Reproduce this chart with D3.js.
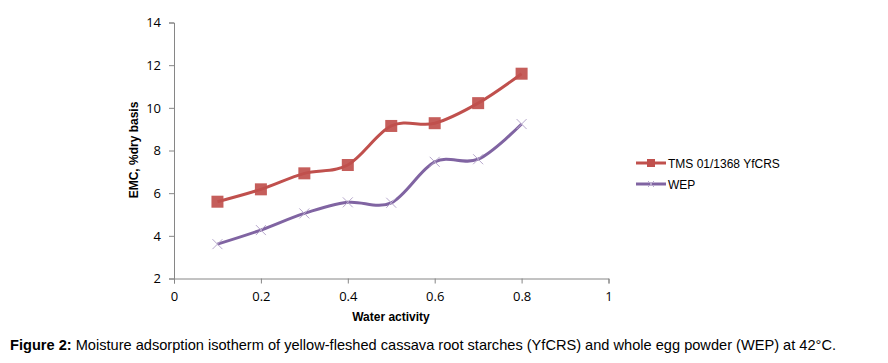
<!DOCTYPE html>
<html><head><meta charset="utf-8">
<script src="https://cdn.jsdelivr.net/npm/d3@7"></script>
<style>body{margin:0;background:#fff}svg{display:block}</style>
</head><body>
<svg id="c" width="888" height="363"></svg>
<script>
const waterActivity = [0.1, 0.2, 0.3, 0.4, 0.5, 0.6, 0.7, 0.8];
const yfcrs = [5.6, 6.18, 6.93, 7.32, 9.15, 9.28, 10.22, 11.6];
const wep = [3.61, 4.27, 5.05, 5.57, 5.55, 7.47, 7.59, 9.24];
const xTicks = [0, 0.2, 0.4, 0.6, 0.8, 1];
const yTicks = [2, 4, 6, 8, 10, 12, 14];
const seriesNames = ["TMS 01/1368 YfCRS", "WEP"];

const svg = d3.select("#c");
const x = d3.scaleLinear().domain([0, 1]).range([174, 608.5]);
const y = d3.scaleLinear().domain([2, 14]).range([278.5, 22.5]);
const axisColor = "#868686";
const tickFont = "'Open Sans', 'Liberation Sans', sans-serif";

const gx = svg.append("g").attr("transform", `translate(0,${y(2)})`)
  .call(d3.axisBottom(x).tickValues(xTicks).tickSize(5).tickPadding(8).tickFormat(d => d === 0 || d === 1 ? d3.format("d")(d) : d3.format(".1f")(d)));
const gy = svg.append("g").attr("transform", `translate(${x(0)},0)`)
  .call(d3.axisLeft(y).tickValues(yTicks).tickSize(5).tickPadding(8));
[gx, gy].forEach(g => {
  g.attr("font-size", 13).attr("font-family", tickFont);
  g.select(".domain").attr("stroke", axisColor).attr("stroke-width", 1);
  g.selectAll(".tick line").attr("stroke", axisColor);
  g.selectAll(".tick text").attr("fill", "#000").attr("font-size", 13);
});

svg.append("text").attr("x", 391).attr("y", 321).attr("text-anchor", "middle")
  .attr("font-family", "'Liberation Sans', Arial, sans-serif").attr("font-weight", "bold").attr("font-size", 12)
  .text("Water activity");
svg.append("text").attr("transform", "translate(138,150) rotate(-90)").attr("text-anchor", "middle")
  .attr("font-family", "'Liberation Sans', Arial, sans-serif").attr("font-weight", "bold").attr("font-size", 12)
  .text("EMC, %dry basis");

const line = d3.line().x(d => x(d[0])).y(d => y(d[1])).curve(d3.curveCatmullRom.alpha(0));
const redData = waterActivity.map((a, i) => [a, yfcrs[i]]);
const purpleData = waterActivity.map((a, i) => [a, wep[i]]);
const red = "#C0504D", purple = "#8064A2", xMark = "#B7A8CC";

svg.append("path").datum(purpleData).attr("d", line).attr("fill", "none").attr("stroke", purple).attr("stroke-width", 3);
const xs = 5;
svg.append("g").selectAll("path").data(purpleData).join("path")
  .attr("d", d => `M${x(d[0])-xs},${y(d[1])-xs}L${x(d[0])+xs},${y(d[1])+xs}M${x(d[0])-xs},${y(d[1])+xs}L${x(d[0])+xs},${y(d[1])-xs}`)
  .attr("stroke", xMark).attr("stroke-width", 1);

svg.append("path").datum(redData).attr("d", line).attr("fill", "none").attr("stroke", red).attr("stroke-width", 3);
const sq = 12;
svg.append("g").selectAll("rect").data(redData).join("rect")
  .attr("x", d => x(d[0]) - sq/2).attr("y", d => y(d[1]) - sq/2).attr("width", sq).attr("height", sq)
  .attr("fill", red).attr("opacity", 0.92);

// legend
const leg = svg.append("g");
const ly = [163, 184];
leg.append("line").attr("x1", 636).attr("x2", 666).attr("y1", ly[0]).attr("y2", ly[0]).attr("stroke", red).attr("stroke-width", 3);
leg.append("rect").attr("x", 647).attr("y", ly[0]-4).attr("width", 8).attr("height", 8).attr("fill", red);
leg.append("line").attr("x1", 636).attr("x2", 666).attr("y1", ly[1]).attr("y2", ly[1]).attr("stroke", purple).attr("stroke-width", 3);
leg.append("path").attr("d", `M648,${ly[1]-3}L654,${ly[1]+3}M648,${ly[1]+3}L654,${ly[1]-3}`).attr("stroke", xMark).attr("stroke-width", 1);
seriesNames.forEach((n, i) => {
  leg.append("text").attr("x", 668).attr("y", ly[i] + 4.5)
    .attr("font-family", "'Liberation Sans', Arial, sans-serif").attr("font-size", 12).text(n);
});

// caption
const cap = svg.append("text").attr("x", 10).attr("y", 350)
  .attr("font-family", "'Liberation Sans Narrow', 'Arial Narrow', 'Liberation Sans', sans-serif").attr("font-size", 15)
  .attr("textLength", 826).attr("lengthAdjust", "spacingAndGlyphs");
cap.append("tspan").attr("font-weight", "bold").text("Figure 2:");
cap.append("tspan").text(" Moisture adsorption isotherm of yellow-fleshed cassava root starches (YfCRS) and whole egg powder (WEP) at 42°C.");
</script>
</body></html>
